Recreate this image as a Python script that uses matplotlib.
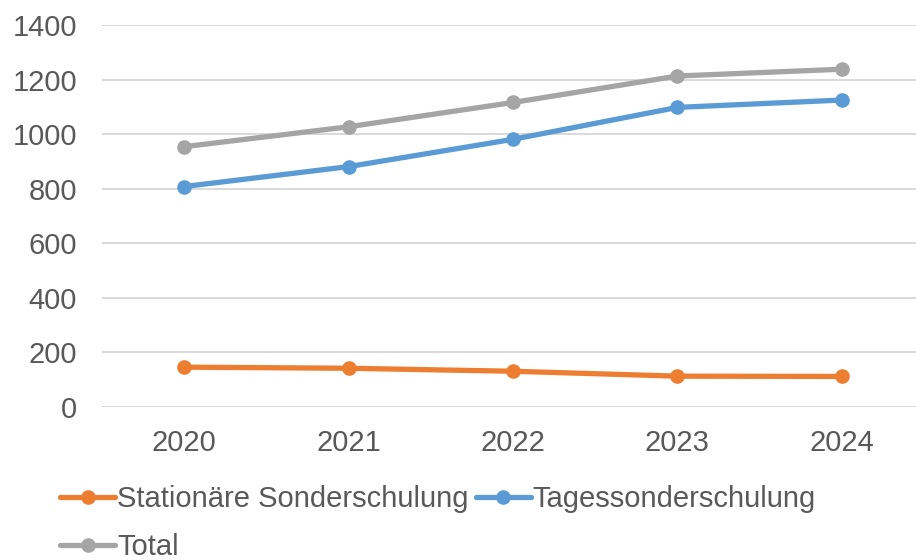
import matplotlib
matplotlib.use("Agg")
import matplotlib.pyplot as plt

years = ["2020", "2021", "2022", "2023", "2024"]
stationaer = [146, 142, 131, 113, 112]
tages = [808, 881, 981, 1098, 1125]
total = [954, 1027, 1116, 1213, 1238]
yticks = [0, 200, 400, 600, 800, 1000, 1200, 1400]

plt.rcParams['font.family'] = ['Liberation Sans', 'DejaVu Sans']

fig = plt.figure(figsize=(9.16, 5.6), dpi=100)
ax = fig.add_axes([102/916, 1-407/560, 822/916, (407-25)/560])

x = list(range(len(years)))
lw = 3.8
ms = 9.5
l1, = ax.plot(x, stationaer, color='#ED7D31', lw=lw, marker='o', ms=ms, label='Stationäre Sonderschulung', solid_capstyle='round')
l2, = ax.plot(x, tages, color='#5B9BD5', lw=lw, marker='o', ms=ms, label='Tagessonderschulung', solid_capstyle='round')
l3, = ax.plot(x, total, color='#A5A5A5', lw=lw, marker='o', ms=ms, label='Total', solid_capstyle='round')

ax.set_xlim(-0.5, len(years)-0.5)
ax.set_ylim(0, 1400)
ax.set_yticks(yticks)
ax.set_xticks(x)
ax.set_xticklabels(years)
ax.yaxis.grid(True, color='#D9D9D9', lw=1.4)
ax.set_axisbelow(True)
for s in ax.spines.values():
    s.set_visible(False)
ax.tick_params(axis='both', length=0, labelsize=21, colors='#595959')
ax.tick_params(axis='y', pad=18)
ax.tick_params(axis='x', pad=16)

leg = fig.legend([l1, l3, l2], ['Stationäre Sonderschulung', 'Total', 'Tagessonderschulung'],
                 ncol=2, loc='upper left', bbox_to_anchor=(60/916, 1-485/560),
                 frameon=False, fontsize=21, handlelength=1.9, handletextpad=0.05,
                 columnspacing=0.25, labelspacing=0.68, borderpad=0, borderaxespad=0)
for t in leg.get_texts():
    t.set_color('#595959')

fig.savefig('out.png', dpi=100)
